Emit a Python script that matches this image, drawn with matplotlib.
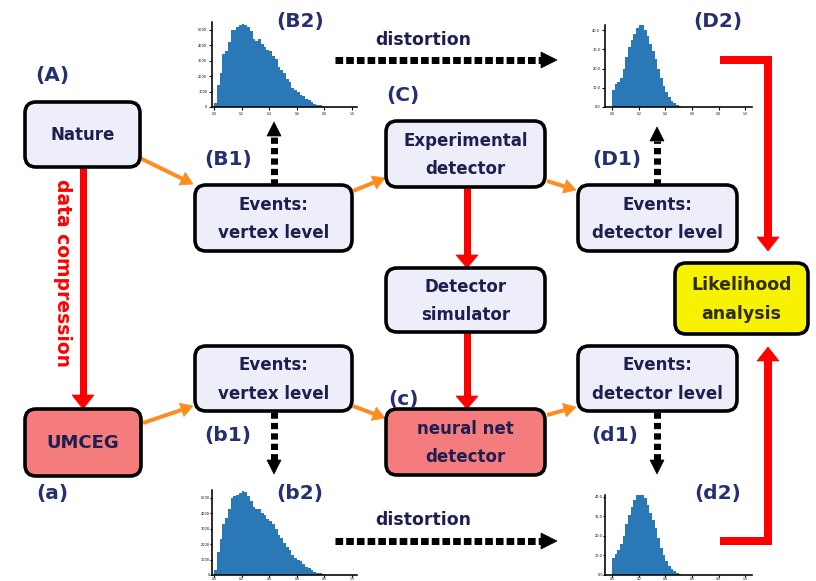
import matplotlib
matplotlib.use("Agg")
import matplotlib.pyplot as plt
import numpy as np
from matplotlib.patches import FancyBboxPatch, Polygon

plt.rcParams['lines.scale_dashes'] = False
plt.rcParams['font.family'] = ['DejaVu Sans']

# ---------------- data ----------------
bin_width = 0.02
hist_B2 = [0.25, 1.4, 2.2, 3.4, 3.6, 4.2, 5.0, 5.0, 5.2, 5.3, 5.4, 5.3, 5.2, 4.9, 4.4,
           4.3, 4.4, 4.1, 3.9, 3.7, 3.6, 3.3, 3.1, 2.6, 2.4, 2.2, 1.8, 1.6, 1.2, 1.1,
           1.0, 0.8, 0.7, 0.5, 0.45, 0.3, 0.2, 0.15, 0.1, 0.05]
hist_b2 = [0.3, 1.5, 2.3, 3.3, 3.7, 4.3, 5.0, 5.1, 5.2, 5.3, 5.45, 5.35, 5.1, 4.8, 4.4,
           4.3, 4.3, 4.0, 3.9, 3.6, 3.5, 3.3, 3.0, 2.6, 2.4, 2.1, 1.8, 1.6, 1.3, 1.1,
           1.0, 0.9, 0.7, 0.55, 0.45, 0.3, 0.2, 0.15, 0.1, 0.05]
hist_D2 = [0.87, 1.2, 1.3, 1.5, 2.0, 2.6, 3.1, 3.5, 3.8, 4.1, 4.35, 4.25, 4.0, 3.7, 3.3,
           2.9, 2.5, 2.0, 1.5, 1.1, 0.8, 0.5, 0.3, 0.2, 0.12, 0.05]
hist_d2 = [0.85, 1.1, 1.3, 1.6, 2.0, 2.6, 3.1, 3.5, 3.85, 4.1, 4.35, 4.2, 3.95, 3.6, 3.2,
           2.8, 2.4, 1.9, 1.4, 1.0, 0.7, 0.45, 0.3, 0.2, 0.12, 0.05]
x_tick_vals = [0.0, 0.2, 0.4, 0.6, 0.8, 1.0]
y_ticks_B = [0, 1, 2, 3, 4, 5]
y_ticks_D = [0, 1, 2, 3, 4]

box_texts = {
    'nature': 'Nature', 'umceg': 'UMCEG',
    'B1': 'Events:\nvertex level', 'b1': 'Events:\nvertex level',
    'C': 'Experimental\ndetector', 'sim': 'Detector\nsimulator',
    'c': 'neural net\ndetector', 'D1': 'Events:\ndetector level',
    'd1': 'Events:\ndetector level', 'lik': 'Likelihood\nanalysis',
}
labels = ['(A)', '(a)', '(B1)', '(b1)', '(C)', '(c)', '(D1)', '(d1)',
          '(B2)', '(b2)', '(D2)', '(d2)']

# ---------------- figure ----------------
W, H = 816, 581
fig = plt.figure(figsize=(W / 100, H / 100), dpi=100)
ax = fig.add_axes([0, 0, 1, 1])
ax.set_xlim(0, W)
ax.set_ylim(H, 0)
ax.axis('off')

PX = 0.72  # points per pixel
NAVY = '#1e1e50'
LAB = '#26306e'
LAV = '#eeeefb'
CORAL = '#f47c7c'
YEL = '#f6f200'
RED = '#ff0000'
ORANGE = '#ff8c1e'

def box(key, x0, y0, x1, y1, fc, tc=NAVY, fs=12):
    p = FancyBboxPatch((x0, y0), x1 - x0, y1 - y0,
                       boxstyle="round,pad=0,rounding_size=11",
                       fc=fc, ec='black', lw=3.6 * PX, zorder=3)
    ax.add_patch(p)
    ax.text((x0 + x1) / 2, (y0 + y1) / 2 + 1, box_texts[key], ha='center', va='center',
            fontsize=fs, fontweight='bold', color=tc, linespacing=1.75, zorder=4)

box('nature', 25, 102, 140, 167, LAV)
box('umceg', 25, 409, 141, 476, CORAL, fs=13)
box('B1', 195, 185, 352, 251, LAV)
box('b1', 195, 346, 352, 411, LAV)
box('C', 386, 121, 545, 187, LAV)
box('sim', 386, 268, 545, 332, LAV)
box('c', 386, 409, 545, 475, CORAL)
box('D1', 578, 185, 737, 251, LAV)
box('d1', 578, 346, 737, 411, LAV)
box('lik', 675, 263, 808, 334, YEL, tc='#2e2a0a', fs=12.5)

lab_pos = [(52, 76), (52, 494), (228, 160), (228, 436), (403, 96), (403, 399),
           (617, 160), (615, 436), (300, 22), (300, 494), (718, 22), (718, 494)]
for t, (x, y) in zip(labels, lab_pos):
    ax.text(x, y, t, ha='center', va='center', fontsize=14.5, fontweight='bold',
            color=LAB, zorder=4)

def arrow(x0, y0, x1, y1, color, width, hl, hw, dashes=None, z=2):
    d = np.array([x1 - x0, y1 - y0], float)
    L = np.hypot(*d)
    u = d / L
    n = np.array([-u[1], u[0]])
    base = np.array([x1, y1], float) - u * hl
    ln, = ax.plot([x0, base[0]], [y0, base[1]], color=color, lw=width * PX,
                  solid_capstyle='butt', zorder=z)
    if dashes is not None:
        ln.set_dashes(dashes)
        ln.set_dash_capstyle('butt')
    tri = [base + n * hw / 2, base - n * hw / 2, np.array([x1, y1], float)]
    ax.add_patch(Polygon(tri, closed=True, fc=color, ec=color, lw=0.5, zorder=z))

# red arrows
arrow(83, 167, 83, 409, RED, 7, 14, 22)
arrow(467, 187, 467, 268, RED, 7, 13, 22)
arrow(467, 332, 467, 409, RED, 7, 13, 22)
# red L-shaped connectors
ax.plot([720, 768, 768], [60, 60, 240], color=RED, lw=8 * PX, solid_joinstyle='miter',
        solid_capstyle='butt', zorder=2)
arrow(768, 235, 768, 251, RED, 8, 14, 22)
ax.plot([720, 768, 768], [541, 541, 360], color=RED, lw=8 * PX, solid_joinstyle='miter',
        solid_capstyle='butt', zorder=2)
arrow(768, 365, 768, 347, RED, 8, 14, 22)

ax.text(62, 273, 'data compression', rotation=-90, ha='center', va='center',
        fontsize=13.5, fontweight='bold', color=RED, zorder=4)

# orange arrows
for (a, b, c, d) in [(140, 158, 193, 184), (353, 191, 385, 178), (547, 181, 576, 190),
                     (143, 423, 193, 406), (353, 406, 385, 418), (547, 415, 576, 407)]:
    arrow(a, b, c, d, ORANGE, 4, 12, 14)

# black dashed arrows
for (a, b, c, d) in [(274, 185, 274, 122), (657, 185, 657, 127),
                     (274, 412, 274, 474), (657, 412, 657, 474)]:
    arrow(a, b, c, d, 'black', 7, 14, 14, dashes=(4.5, 3), z=2)
arrow(335, 60, 557, 60, 'black', 7, 16, 16, dashes=(5.5, 2.2))
arrow(335, 541, 557, 541, 'black', 7, 16, 16, dashes=(5.5, 2.2))
ax.text(423, 40, 'distortion', ha='center', va='center', fontsize=12.5,
        fontweight='bold', color=NAVY)
ax.text(423, 520, 'distortion', ha='center', va='center', fontsize=12.5,
        fontweight='bold', color=NAVY)

# ---------------- histograms ----------------
def hist(vals, left, right, top, bottom, xmin, xmax, ymax, yticks, ylabfmt, tl=2, pad=1.5):
    hax = fig.add_axes([left / W, 1 - bottom / H, (right - left) / W, (bottom - top) / H])
    edges = np.arange(len(vals) + 1) * bin_width
    hax.stairs(vals, edges, fill=True, color='#2a78b6', lw=0)
    hax.set_xlim(xmin, xmax)
    hax.set_ylim(0, ymax)
    hax.patch.set_alpha(0)
    for s in ['top', 'right']:
        hax.spines[s].set_visible(False)
    for s in ['left', 'bottom']:
        hax.spines[s].set_linewidth(1.6 * PX)
    hax.set_xticks(x_tick_vals)
    hax.set_xticklabels([f"{v:.1f}" for v in x_tick_vals])
    hax.set_yticks(yticks)
    hax.set_yticklabels([ylabfmt(v) for v in yticks])
    hax.tick_params(labelsize=2.5, length=tl, width=0.8, pad=pad)
    hax.tick_params(axis='x', labelsize=2.2)
    return hax

hist(hist_B2, 212, 357, 22, 107, -0.015, 1.036, 5.5, y_ticks_B, lambda v: f"{v*1000:d}")
hist(hist_b2, 212, 357, 490, 575, -0.015, 1.036, 5.5, y_ticks_B, lambda v: f"{v*1000:d}",
     tl=1.2, pad=0.3)
hist(hist_D2, 605, 752, 25, 107, -0.053, 1.05, 4.27, y_ticks_D, lambda v: f"{v*10:.1f}")
hist(hist_d2, 605, 752, 495, 575, -0.053, 1.05, 4.1, y_ticks_D, lambda v: f"{v*10:.1f}",
     tl=1.2, pad=0.3)

fig.savefig('out.png', dpi=100)
